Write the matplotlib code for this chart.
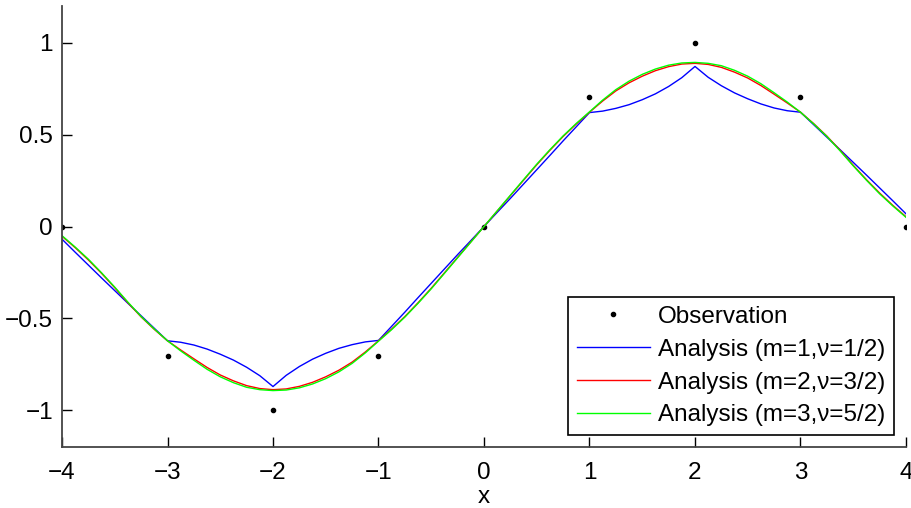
import matplotlib
matplotlib.use("Agg")
from matplotlib import pyplot as plt

plt.rcParams['font.family'] = ['Liberation Sans', 'DejaVu Sans']

# observations
obs_x = [-4, -3, -2, -1, 0, 1, 2, 3, 4]
obs_y = [0, -0.707, -1, -0.707, 0, 0.707, 1, 0.707, 0]

# curve values, x step 0.125
xs = [-4, -3.875, -3.75, -3.625, -3.5, -3.375, -3.25, -3.125,
      -3, -2.875, -2.75, -2.625, -2.5, -2.375, -2.25, -2.125,
      -2, -1.875, -1.75, -1.625, -1.5, -1.375, -1.25, -1.125,
      -1, -0.875, -0.75, -0.625, -0.5, -0.375, -0.25, -0.125,
      0, 0.125, 0.25, 0.375, 0.5, 0.625, 0.75, 0.875,
      1, 1.125, 1.25, 1.375, 1.5, 1.625, 1.75, 1.875,
      2, 2.125, 2.25, 2.375, 2.5, 2.625, 2.75, 2.875,
      3, 3.125, 3.25, 3.375, 3.5, 3.625, 3.75, 3.875, 4]

blue = [-0.069, -0.140, -0.210, -0.280, -0.349, -0.418, -0.486, -0.554,
        -0.622, -0.630, -0.645, -0.667, -0.695, -0.727, -0.766, -0.812,
        -0.871, -0.810, -0.762, -0.722, -0.690, -0.663, -0.643, -0.628,
        -0.620, -0.543, -0.466, -0.387, -0.309, -0.231, -0.153, -0.077,
        0, 0.077, 0.153, 0.231, 0.309, 0.387, 0.466, 0.543,
        0.620, 0.628, 0.643, 0.663, 0.690, 0.722, 0.762, 0.810,
        0.871, 0.812, 0.766, 0.727, 0.695, 0.667, 0.645, 0.630,
        0.622, 0.554, 0.486, 0.418, 0.349, 0.280, 0.210, 0.140, 0.069]

red = [-0.053, -0.115, -0.182, -0.255, -0.333, -0.415, -0.492, -0.560,
       -0.622, -0.672, -0.720, -0.767, -0.808, -0.840, -0.866, -0.882,
       -0.888, -0.884, -0.870, -0.848, -0.818, -0.782, -0.738, -0.683,
       -0.622, -0.558, -0.490, -0.415, -0.336, -0.252, -0.168, -0.084,
       0, 0.084, 0.168, 0.252, 0.336, 0.415, 0.490, 0.558,
       0.622, 0.683, 0.738, 0.782, 0.818, 0.848, 0.870, 0.884,
       0.888, 0.882, 0.866, 0.840, 0.808, 0.767, 0.720, 0.672,
       0.622, 0.560, 0.492, 0.415, 0.333, 0.255, 0.182, 0.115, 0.053]

green = [-0.050, -0.112, -0.178, -0.252, -0.330, -0.412, -0.490, -0.558,
         -0.622, -0.677, -0.728, -0.777, -0.818, -0.850, -0.875, -0.888,
         -0.893, -0.890, -0.878, -0.857, -0.828, -0.791, -0.745, -0.688,
         -0.624, -0.561, -0.493, -0.418, -0.339, -0.255, -0.170, -0.085,
         0, 0.085, 0.170, 0.255, 0.339, 0.418, 0.493, 0.561,
         0.624, 0.688, 0.745, 0.791, 0.828, 0.857, 0.878, 0.890,
         0.893, 0.888, 0.875, 0.850, 0.818, 0.777, 0.728, 0.677,
         0.622, 0.558, 0.490, 0.412, 0.330, 0.252, 0.178, 0.112, 0.050]

labels = ["Observation", "Analysis (m=1,ν=1/2)",
          "Analysis (m=2,ν=3/2)", "Analysis (m=3,ν=5/2)"]

fig = plt.figure(figsize=(9.12, 5.08), dpi=100)
ax = fig.add_axes([62/912, 61/508, 844/912, 441/508])

ax.plot(obs_x, obs_y, '.', color='black', markersize=6, label=labels[0])
ax.plot(xs, blue, '-', color='#0000ff', linewidth=1, label=labels[1])
ax.plot(xs, red, '-', color='#ff0000', linewidth=1, label=labels[2])
ax.plot(xs, green, '-', color='#00ff00', linewidth=1, label=labels[3])

ax.set_xlim(-4, 4)
ax.set_ylim(-1.2, 1.2)
ax.set_xticks([-4, -3, -2, -1, 0, 1, 2, 3, 4])
ax.set_yticks([-1, -0.5, 0, 0.5, 1])
ax.set_yticklabels(['\u22121', '\u22120.5', '0', '0.5', '1'])
ax.set_xticklabels(['\u22124', '\u22123', '\u22122', '\u22121', '0', '1', '2', '3', '4'])
ax.tick_params(direction='in', length=7, width=1, labelsize=17.5, colors='black')
ax.tick_params(axis='x', pad=11)
ax.tick_params(axis='y', pad=6.5)
ax.spines['top'].set_visible(False)
ax.spines['right'].set_visible(False)
for s in ['left', 'bottom']:
    ax.spines[s].set_color('#444444')
    ax.spines[s].set_linewidth(1.3)
ax.set_xlabel("x", fontsize=17.5, labelpad=1)

leg = ax.legend(loc='lower right', bbox_to_anchor=(1 - 12/844, 12/441), borderaxespad=0,
                fontsize=17.5, handlelength=3.0, handletextpad=0.35, labelspacing=0.45,
                borderpad=0.35, fancybox=False, framealpha=1)
leg.get_frame().set_edgecolor('black')
leg.get_frame().set_linewidth(1.2)

plt.savefig("out.png", dpi=100)
